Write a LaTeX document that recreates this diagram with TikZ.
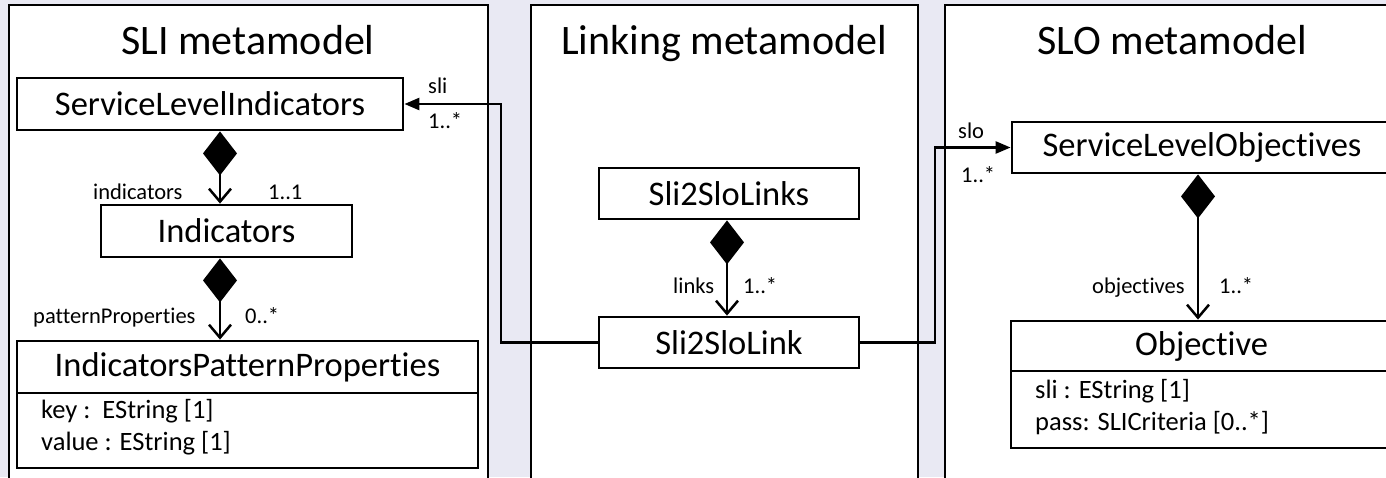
\documentclass[tikz,border=0pt]{standalone}
\usepackage{fontspec}
\setmainfont{Carlito}[Ligatures=NoCommon]
\usetikzlibrary{arrows.meta,calc}
\definecolor{bgpanel}{HTML}{E9E9F3}
\tikzset{
  x=1pt, y=-1pt,
  panelframe/.style={line width=2.8pt, line join=miter},
  cls/.style={draw, fill=white, line width=2.8pt, inner sep=0pt,
    font=\fontsize{34.5}{38}\selectfont},
  attrbox/.style={draw, fill=white, line width=2.8pt, inner sep=0pt},
  attr/.style={anchor=base west, inner sep=0pt, font=\fontsize{26.5}{30}\selectfont},
  ttl/.style={anchor=base, inner sep=0pt, font=\fontsize{42}{46}\selectfont},
  lbl/.style={anchor=base west, inner sep=0pt, font=\fontsize{22.5}{26}\selectfont},
  comp/.style={line width=2.5pt,
    {Diamond[length=44pt,width=34pt]}-{Straight Barb[length=13pt,width=22pt,line width=2.5pt]}},
  assoc/.style={line width=2.5pt, line join=miter,
    -{Triangle[length=15pt,width=12pt]}},
}
\begin{document}
\begin{tikzpicture}
\useasboundingbox (0,0) rectangle (1386,477);
\fill[bgpanel] (0,0) rectangle (1386,477);

% three package frames, open at the bottom (and at the right for SLO)
\fill[white] (9,5) rectangle (488,480);
\draw[panelframe] (9,480) -- (9,5) -- (488,5) -- (488,480);
\fill[white] (531,5) rectangle (918,480);
\draw[panelframe] (531,480) -- (531,5) -- (918,5) -- (918,480);
\fill[white] (945,5) rectangle (1392,480);
\draw[panelframe] (945,480) -- (945,5) -- (1392,5);

\node[ttl] (t1) at (248,54) {SLI metamodel};
\node[ttl] (t2) at (724,54) {Linking metamodel};
\node[ttl] (t3) at (1172,54) {SLO metamodel};

% SLI metamodel
\node[cls, minimum width=386pt, minimum height=52pt] (sli) at (210,104) {ServiceLevelIndicators};
\node[cls, minimum width=251pt, minimum height=52pt] (ind) at (226.5,231) {Indicators};
\node[cls, minimum width=461pt, minimum height=52pt] (ipp) at (247.5,367) {IndicatorsPatternProperties};
\node[attrbox, minimum width=461pt, minimum height=75pt] (ippa) at (247.5,430.5) {};
\node[attr] (a1) at (41,418) {key :\ \ EString [1]};
\node[attr] (a2) at (41,450) {value : EString [1]};

\coordinate (cx1) at (220,0);
\draw[comp] (sli.south -| cx1) -- (ind.north -| cx1);
\draw[comp] (ind.south -| cx1) -- (ipp.north -| cx1);
\node[lbl] (l1) at (93,199) {indicators};
\node[lbl] (l2) at (268,199) {1..1};
\node[lbl] (l3) at (33,323) {patternProperties};
\node[lbl] (l4) at (245,323) {0..*};

% Linking metamodel
\node[cls, minimum width=260pt, minimum height=51pt] (lks) at (729,193.5) {Sli2SloLinks};
\node[cls, minimum width=260pt, minimum height=51pt] (lnk) at (729,342.5) {Sli2SloLink};
\coordinate (cx2) at (727,0);
\draw[comp] (lks.south -| cx2) -- (lnk.north -| cx2);
\node[lbl] (l5) at (673,293) {links};
\node[lbl] (l6) at (743,293) {1..*};

% SLO metamodel
\node[cls, minimum width=380pt, minimum height=51pt] (slo) at (1202,147.5) {ServiceLevelObjectives};
\node[cls, minimum width=381pt, minimum height=50pt] (obj) at (1201.5,346) {Objective};
\node[attrbox, minimum width=381pt, minimum height=77pt] (obja) at (1201.5,409.5) {};
\node[attr] (a3) at (1035,398) {sli : EString [1]};
\node[attr] (a4) at (1035,430) {pass: SLICriteria [0..*]};
\coordinate (cx3) at (1198,0);
\draw[comp] (slo.south -| cx3) -- (obj.north -| cx3);
\node[lbl] (l7) at (1092,293) {objectives};
\node[lbl] (l8) at (1219,293) {1..*};

% cross-package references
\coordinate (jl) at (501,0);
\coordinate (jr) at (935,0);
\draw[assoc] (lnk.west) -- (lnk.west -| jl) |- (sli.east);
\draw[assoc] (lnk.east) -- (lnk.east -| jr) |- (slo.west);
\node[lbl] (l9) at (428,93) {sli};
\node[lbl] (l10) at (428,128) {1..*};
\node[lbl] (l11) at (958,138) {slo};
\node[lbl] (l12) at (961,182) {1..*};
\end{tikzpicture}
\end{document}
